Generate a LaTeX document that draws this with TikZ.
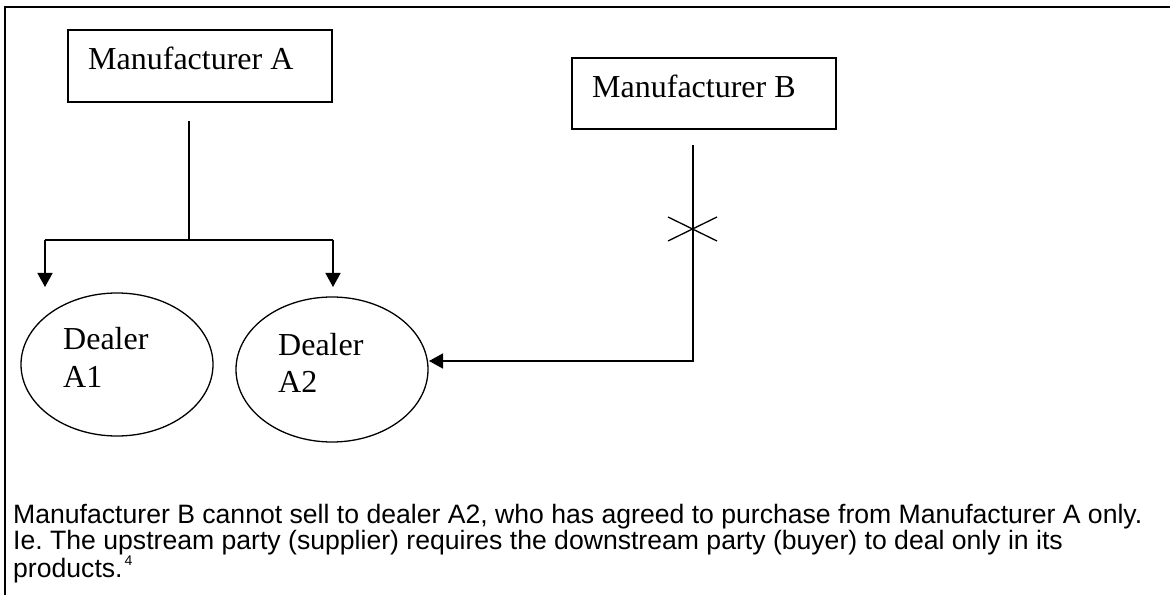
\documentclass[tikz,border=0pt]{standalone}
\usepackage{fontspec}
\setmainfont{Liberation Serif}
\newfontfamily\arialfont{Liberation Sans}
\usetikzlibrary{arrows.meta,shapes.geometric,calc}
\frenchspacing
\begin{document}
\begin{tikzpicture}[x=1bp,y=-1bp,
  mbox/.style={draw, line width=1.8bp, rectangle, minimum width=264bp, minimum height=72bp, inner sep=0pt},
  dealer/.style={draw, line width=1.3bp, ellipse, inner sep=0pt},
  lab/.style={anchor=base west, inner sep=0pt, font=\fontsize{32bp}{36bp}\selectfont},
  conn/.style={line width=1.6bp},
  arr/.style={conn, -{Triangle[length=14bp,width=15bp]}},
  crossmark/.style={line width=1.3bp},
  note/.style={anchor=base west, inner sep=0pt, font=\arialfont\fontsize{26.6bp}{26bp}\selectfont}
]
\useasboundingbox (0,0) rectangle (1170,595);
\fill[white] (0,0) rectangle (1170,595);
% outer frame (top and left edges)
\draw[line width=2.2bp] (1170,7) -- (5,7) -- (5,595);

% manufacturer boxes
\node[mbox] (mA) at (200,66) {};
\node[lab] (mAt) at (88,70) {Manufacturer A};
\node[mbox, minimum height=71bp] (mB) at (704,93.5) {};
\node[lab] (mBt) at (592,98) {Manufacturer B};

% dealers
\node[dealer, minimum width=192bp, minimum height=143bp] (dA1) at (117,364.5) {};
\node[lab] (dA1a) at (63,350) {Dealer};
\node[lab] (dA1b) at (63,387) {A1};
\node[dealer, minimum width=192bp, minimum height=145bp] (dA2) at (332,369.5) {};
\node[lab] (dA2a) at (278,355) {Dealer};
\node[lab] (dA2b) at (278,392) {A2};

% connector points
\coordinate (aTop) at (189,121);
\coordinate (aJoin) at (189,240);
\coordinate (aL) at (45,240);
\coordinate (aR) at (333,240);
\coordinate (aLtip) at (45,287);
\coordinate (aRtip) at (333,287);
\coordinate (bTop) at (693,145);
\coordinate (bCorner) at (693,361);
\coordinate (bTip) at (429,361);
\coordinate (xc) at (693,229);

\draw[conn] (aTop) -- (aJoin);
\draw[conn] (aL) -- (aR);
\draw[arr] (aL) -- (aLtip);
\draw[arr] (aR) -- (aRtip);
\draw[arr] (bTop) -- (bCorner) -- (bTip);

% cross mark
\draw[crossmark] ($(xc)+(-25,-12)$) -- ($(xc)+(24,12)$);
\draw[crossmark] ($(xc)+(-25,12)$) -- ($(xc)+(24,-12)$);

% note
\node[note] (n1) at (13,523) {Manufacturer B cannot sell to dealer A2, who has agreed to purchase from Manufacturer A only.};
\node[note] (n2) at (13,549.5) {Ie. The upstream party (supplier) requires the downstream party (buyer) to deal only in its};
\node[note] (n3) at (13,577) {products.\hspace{2bp}\raisebox{12bp}{\fontsize{14bp}{14bp}\selectfont 4}};
\end{tikzpicture}
\end{document}
